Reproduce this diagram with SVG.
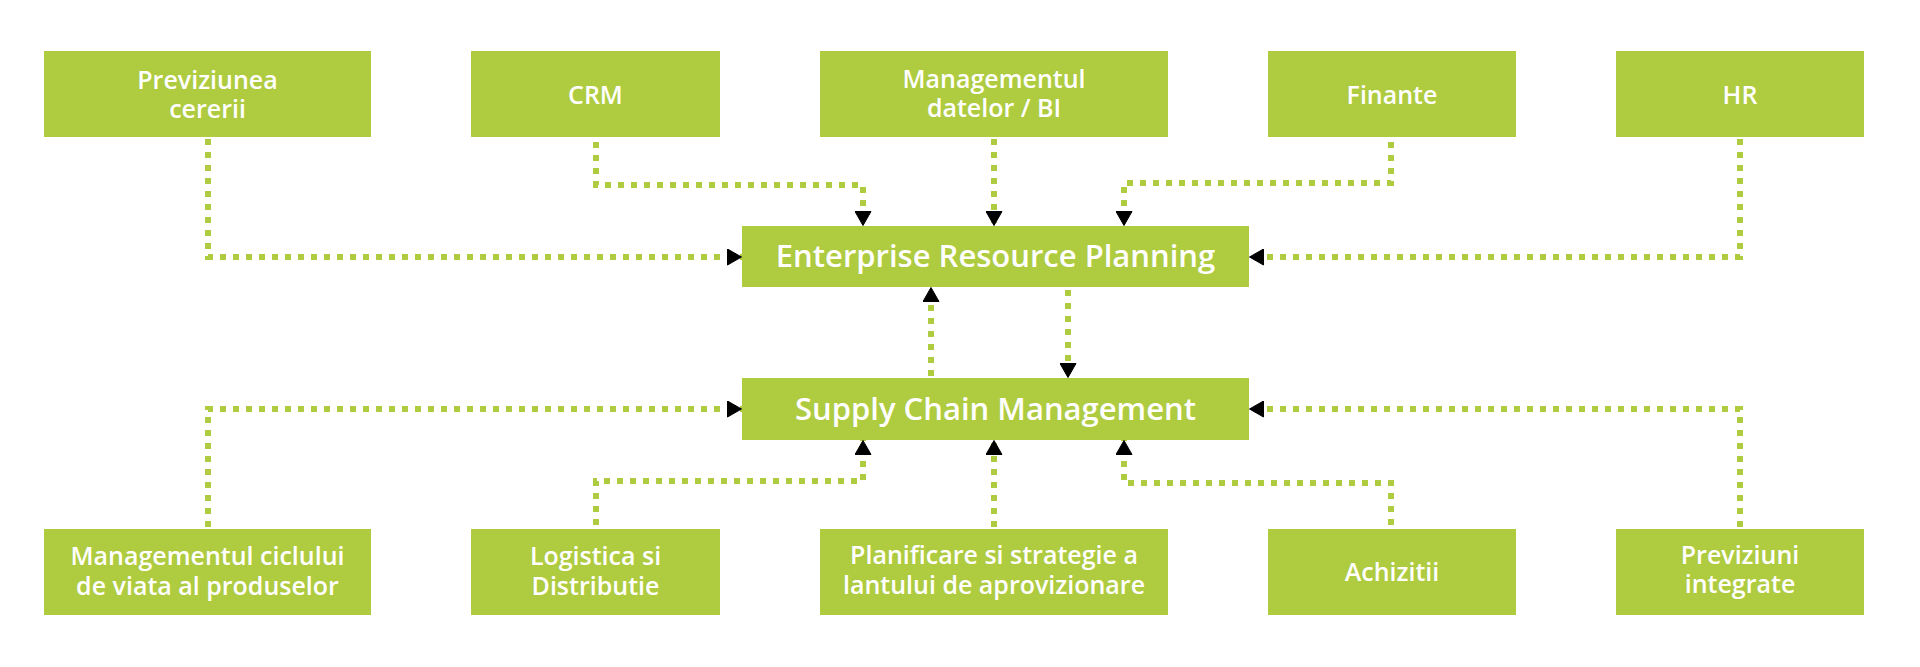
<svg xmlns="http://www.w3.org/2000/svg" width="1920" height="667" viewBox="0 0 1920 667">
<defs>
<style>
.box{fill:#AFCB40;}
.lbl{font-family:"Open Sans","Liberation Sans",sans-serif;font-weight:600;font-size:25px;fill:#ffffff;text-anchor:middle;}
.big{font-size:31px;}
.con{fill:none;stroke:#AFCB40;stroke-width:6;stroke-dasharray:6 7;}
</style>
<marker id="arr" markerUnits="userSpaceOnUse" markerWidth="15" markerHeight="17" viewBox="0 0 15 17" refX="15" refY="8.5" orient="auto">
<path d="M0.5,0.5 L14.5,8.5 L0.5,16.5 Z" fill="#000" stroke="#000" stroke-width="1" stroke-linejoin="round"/>
</marker>
</defs>
<rect width="1920" height="667" fill="#ffffff"/>
<g id="connectors">
<path class="con" d="M208,139 V257 H742" marker-end="url(#arr)"/>
<path class="con" d="M596,142 V185 H863 V226" marker-end="url(#arr)"/>
<path class="con" d="M994,139 V226" marker-end="url(#arr)"/>
<path class="con" d="M1391,142 V183 H1124 V226" marker-end="url(#arr)"/>
<path class="con" d="M1740,139 V257 H1249" marker-end="url(#arr)"/>
<path class="con" d="M931,376 V287" marker-end="url(#arr)"/>
<path class="con" d="M1068,290 V378" marker-end="url(#arr)"/>
<path class="con" d="M208,527 V409 H742" marker-end="url(#arr)"/>
<path class="con" d="M596,525 V481 H863 V440" marker-end="url(#arr)"/>
<path class="con" d="M994,527 V440" marker-end="url(#arr)"/>
<path class="con" d="M1391,525 V483 H1124 V440" marker-end="url(#arr)"/>
<path class="con" d="M1740,527 V409 H1249" marker-end="url(#arr)"/>
</g>
<g id="n-previziunea">
<rect class="box" x="44" y="51" width="327" height="86"/>
<text class="lbl" x="207.5" y="89">Previziunea</text>
<text class="lbl" x="207.5" y="118">cererii</text>
</g>
<g id="n-crm">
<rect class="box" x="471" y="51" width="249" height="86"/>
<text class="lbl" x="595.5" y="104">CRM</text>
</g>
<g id="n-date">
<rect class="box" x="820" y="51" width="348" height="86"/>
<text class="lbl" x="994" y="88">Managementul</text>
<text class="lbl" x="994" y="117">datelor / BI</text>
</g>
<g id="n-finante">
<rect class="box" x="1268" y="51" width="248" height="86"/>
<text class="lbl" x="1392" y="104">Finante</text>
</g>
<g id="n-hr">
<rect class="box" x="1616" y="51" width="248" height="86"/>
<text class="lbl" x="1740" y="104">HR</text>
</g>
<g id="n-erp">
<rect class="box" x="742" y="226" width="507" height="61"/>
<text class="lbl big" x="995.5" y="267">Enterprise Resource Planning</text>
</g>
<g id="n-scm">
<rect class="box" x="742" y="378" width="507" height="62"/>
<text class="lbl big" x="995.5" y="420">Supply Chain Management</text>
</g>
<g id="n-plm">
<rect class="box" x="44" y="529" width="327" height="86"/>
<text class="lbl" x="207.5" y="565">Managementul ciclului</text>
<text class="lbl" x="207.5" y="595">de viata al produselor</text>
</g>
<g id="n-logistica">
<rect class="box" x="471" y="529" width="249" height="86"/>
<text class="lbl" x="595.5" y="565">Logistica si</text>
<text class="lbl" x="595.5" y="595">Distributie</text>
</g>
<g id="n-planificare">
<rect class="box" x="820" y="529" width="348" height="86"/>
<text class="lbl" x="994" y="564">Planificare si strategie a</text>
<text class="lbl" x="994" y="594">lantului de aprovizionare</text>
</g>
<g id="n-achizitii">
<rect class="box" x="1268" y="529" width="248" height="86"/>
<text class="lbl" x="1392" y="581">Achizitii</text>
</g>
<g id="n-previziuni">
<rect class="box" x="1616" y="529" width="248" height="86"/>
<text class="lbl" x="1740" y="564">Previziuni</text>
<text class="lbl" x="1740" y="593">integrate</text>
</g>
</svg>
